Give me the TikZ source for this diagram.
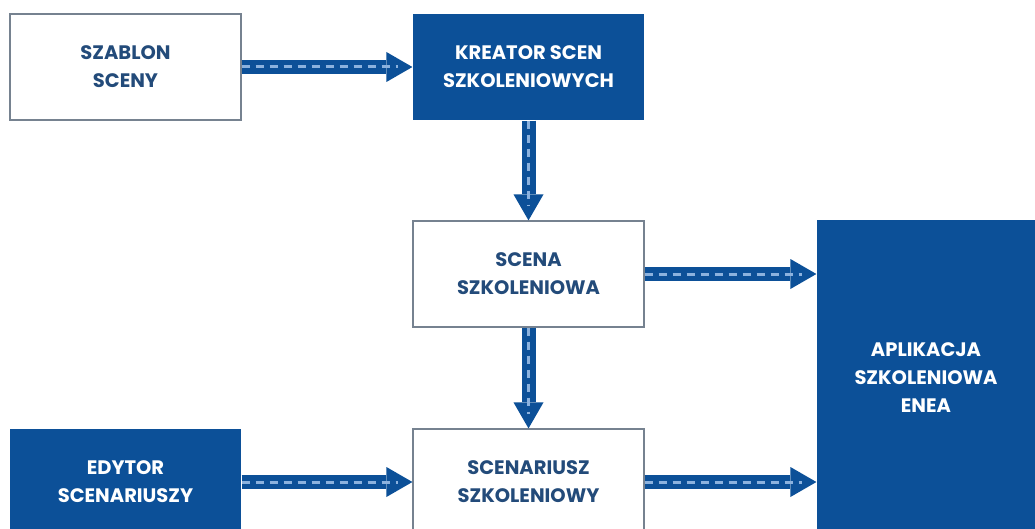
\documentclass[tikz,border=0pt]{standalone}
\usepackage{fontspec}
\setmainfont{Poppins}
\usetikzlibrary{positioning,arrows.meta}
\definecolor{eneablue}{RGB}{12,80,152}
\definecolor{textblue}{RGB}{35,75,122}
\definecolor{boxgray}{RGB}{118,130,144}
\definecolor{dashblue}{RGB}{140,178,222}

\begin{document}
\begin{tikzpicture}[x=1pt,y=-1pt,
  whitebox/.style={draw=boxgray,line width=1.2pt,fill=white,
    minimum width=231pt,minimum height=106pt,inner sep=0pt,align=center,
    font=\bfseries\fontsize{19.5}{28}\selectfont,text=textblue},
  bluebox/.style={whitebox,draw=none,fill=eneablue,text=white},
  flow/.style={color=eneablue,line width=14pt,
    -{Triangle[width=30pt,length=26pt,line width=0pt,color=eneablue]},
    postaction={draw=dashblue,line width=3pt,dash pattern=on 8pt off 6pt,-,shorten >=14pt}}]
\clip (0,0) rectangle (1035,529);
\fill[white] (0,0) rectangle (1035,529);

\node[whitebox] (szablon) at (125.5,67) {SZABLON\\SCENY};
\node[bluebox] (kreator) at (528.5,67) {KREATOR SCEN\\SZKOLENIOWYCH};
\node[whitebox] (scena) at (528.5,274) {SCENA\\SZKOLENIOWA};
\node[whitebox] (scenariusz) at (528.5,482) {SCENARIUSZ\\SZKOLENIOWY};
\node[bluebox] (edytor) at (125.5,482) {EDYTOR\\SCENARIUSZY};
\node[bluebox,minimum width=218pt,minimum height=316pt] (aplikacja) at (926,378) {APLIKACJA\\SZKOLENIOWA\\ENEA};

\draw[flow] (szablon) -- (kreator);
\draw[flow] (kreator) -- (scena);
\draw[flow] (scena) -- (scenariusz);
\draw[flow] (edytor) -- (scenariusz);
\draw[flow] (scena.east) -- (scena.east -| aplikacja.west);
\draw[flow] (scenariusz.east) -- (scenariusz.east -| aplikacja.west);

\end{tikzpicture}
\end{document}
